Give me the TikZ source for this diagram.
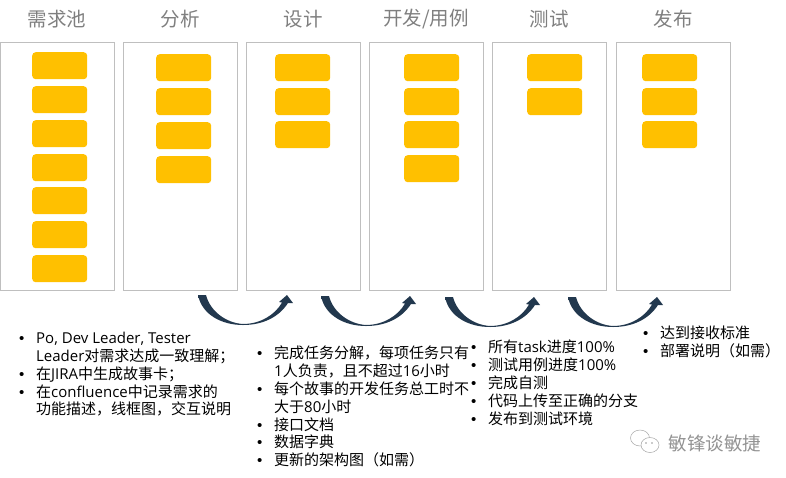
\documentclass[tikz,border=0pt]{standalone}
\usepackage{fontspec}
\setmainfont{Open Sans}
\newfontfamily\cjk{Noto Sans CJK SC}
\newfontfamily\dotfont{Liberation Sans}
\usetikzlibrary{positioning}
\definecolor{cardyellow}{HTML}{FFC000}
\definecolor{laneline}{HTML}{BFBFBF}
\definecolor{titlegray}{HTML}{7F7F7F}
\definecolor{arrowdark}{HTML}{22384E}
\definecolor{arrowlight}{HTML}{4A6A86}
\newcommand{\itm}{\makebox[17pt][l]{{\dotfont •}}}
\newcommand{\cnt}{\hspace*{17pt}}
\tikzset{
    lane/.style={draw=laneline, line width=0.9pt, fill=white, minimum width=114pt, minimum height=248pt, anchor=north west, inner sep=0pt},
    card/.style={fill=cardyellow, rounded corners=3.5pt, minimum width=55pt, minimum height=27pt, anchor=north west, inner sep=0pt},
    lanetitle/.style={text=titlegray, font=\fontsize{19.5}{22}\selectfont\cjk},
    notelist/.style={anchor=north west, align=left, inner sep=0pt, text=black, font=\fontsize{15}{17.8}\selectfont},
    pics/bendarrow/.style={code={
        \shade[left color=arrowdark, middle color=arrowlight, right color=arrowdark]
            (0,0) -- (8,0) .. controls (12,16) and (28,28) .. (45,29)
            .. controls (62,29) and (77,20) .. (84,7.5) -- (81,7) -- (89,0) -- (95,8) -- (90,8)
            .. controls (81,22) and (65,30) .. (45,30) .. controls (24,30) and (4,20) .. (0,0) -- cycle;
    }},
}

\begin{document}
\begin{tikzpicture}[x=1pt, y=-1pt]
    \useasboundingbox (0,0) rectangle (786,477);

    % --- Lanes and titles ---
    \foreach \name/\lx/\tx/\label in {pool/0/57/需求池, analyse/123/180/分析, design/246/303/设计, dev/369/426/{开发/用例}, test/492/549/测试, release/616/673/发布} {
        \node[lane] (lane-\name) at (\lx,42) {};
        \node[lanetitle] (title-\name) at (\tx,19) {\label};
    }

    % --- Cards ---
    \foreach \y [count=\i] in {52,86,120,154,187,221,255}
        \node[card] (card-pool-\i) at (32,\y) {};
    \foreach \y [count=\i] in {54,88,122,156}
        \node[card] (card-analyse-\i) at (156,\y) {};
    \foreach \y [count=\i] in {54,88,121}
        \node[card] (card-design-\i) at (275,\y) {};
    \foreach \y [count=\i] in {54,88,121,155}
        \node[card] (card-dev-\i) at (404,\y) {};
    \foreach \y [count=\i] in {54,88}
        \node[card] (card-test-\i) at (527,\y) {};
    \foreach \y [count=\i] in {54,88,121}
        \node[card] (card-release-\i) at (642,\y) {};

    % --- Bent arrows between the lanes ---
    \foreach \ax/\ay in {198/295, 321/296, 445/297, 568/297}
        \pic at (\ax,\ay) {bendarrow};

    % --- Notes under the lanes ---
    \node[notelist] (notes-pool) at (19,332) {\itm Po, Dev Leader, Tester\\
        \cnt Leader{\cjk 对需求达成一致理解；}\\
        \itm{\cjk 在}JIRA{\cjk 中生成故事卡；}\\
        \itm{\cjk 在}confluence{\cjk 中记录需求的}\\
        \cnt{\cjk 功能描述，线框图，交互说明}};
    \node[notelist] (notes-design) at (257,346) {\itm{\cjk 完成任务分解，每项任务只有}\\
        \cnt 1{\cjk 人负责，且不超过}16{\cjk 小时}\\
        \itm{\cjk 每个故事的开发任务总工时不}\\
        \cnt{\cjk 大于}80{\cjk 小时}\\
        \itm{\cjk 接口文档}\\
        \itm{\cjk 数据字典}\\
        \itm{\cjk 更新的架构图（如需）}};
    \node[notelist] (notes-test) at (471,340) {\itm{\cjk 所有}task{\cjk 进度}100\%\\
        \itm{\cjk 测试用例进度}100\%\\
        \itm{\cjk 完成自测}\\
        \itm{\cjk 代码上传至正确的分支}\\
        \itm{\cjk 发布到测试环境}};
    \node[notelist] (notes-release) at (643,326) {\itm{\cjk 达到接收标准}\\
        \itm{\cjk 部署说明（如需）}};

    % --- Watermark ---
    \draw[gray!70, line width=0.5pt, fill=white] (640,438) ellipse (9.5pt and 8pt);
    \draw[gray!70, line width=0.5pt, fill=white] (650,445) ellipse (9pt and 7.5pt);
    \fill[gray!80] (646,443) circle (0.8pt) (652,443) circle (0.8pt);
    \node[text=gray!85, font=\fontsize{18.5}{20}\selectfont\cjk] (mark) at (715,443) {敏锋谈敏捷};

\end{tikzpicture}
\end{document}
